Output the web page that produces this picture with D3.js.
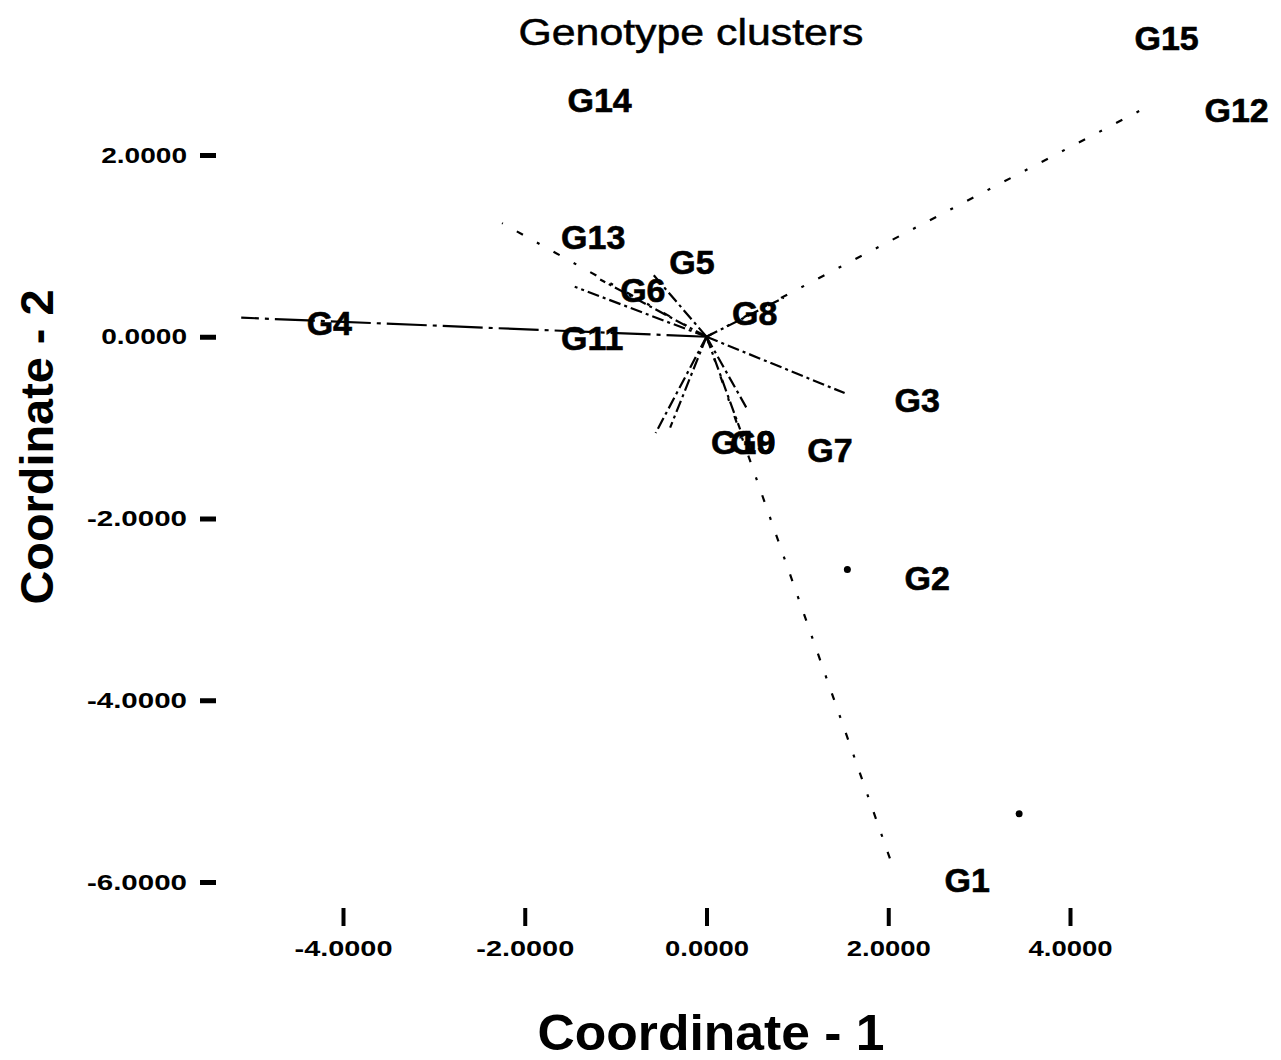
<!DOCTYPE html>
<html>
<head>
<meta charset="utf-8">
<title>Genotype clusters</title>
<script src="https://d3js.org/d3.v7.min.js"></script>
<style>
  body { margin: 0; background: #fff; }
  svg { display: block; font-family: "Liberation Sans", Arial, sans-serif; }
  .tick line { stroke: #000; }
  .tick text { fill: #000; font-size: 22px; font-weight: bold; }
  .glabel { font-size: 34px; font-weight: bold; fill: #000; stroke: #000; stroke-width: 0.6; }
  .ray { fill: none; stroke: #000; stroke-width: 2.2; }
</style>
</head>
<body>
<svg width="1281" height="1060"></svg>
<script>

// genotype labels, placed at their coordinates
var genotypes = ["G1", "G2", "G3", "G4", "G5", "G6", "G7", "G8", "G9", "G10", "G11", "G12", "G13", "G14", "G15"];
var coord1 = [2.62, 2.18, 2.07, -4.40, -0.41, -0.95, 1.11, 0.28, 0.26, 0.05, -1.60, 5.48, -1.60, -1.53, 4.71];
var coord2 = [-5.97, -2.65, -0.69, 0.15, 0.83, 0.52, -1.24, 0.26, -1.16, -1.16, -0.01, 2.50, 1.10, 2.61, 3.29];

// vectors drawn out from the origin
var rayEnd1 = [-5.12, -2.25, -1.45, -1.17, -0.60, 0.85, 1.52, -0.56, -0.40, 0.37, 0.45, 2.06, 4.85];
var rayEnd2 = [0.21, 1.25, 0.55, 0.63, 0.70, 0.43, -0.62, -1.06, -1.00, -1.02, -0.80, -5.86, 2.53];

// stray point marks
var mark1 = [1.55, 3.44];
var mark2 = [-2.56, -5.25];

var xTicks = [-4, -2, 0, 2, 4];
var yTicks = [2, 0, -2, -4, -6];

var svg = d3.select("svg");

var x = d3.scaleLinear().domain([-4, 4]).range([343, 1070]);
var y = d3.scaleLinear().domain([-6, 2]).range([882, 155]);

// plain hyphen for negatives, four decimals
var fmt = function(d) { return d3.format(".4f")(d).replace("\u2212", "-"); };

// dash patterns: dense for the short rays, sparse for the long ones
var dashFor = function(i) {
  var sparse = [1, 11, 12];
  if (sparse.indexOf(i) >= 0) return "7,16,3,16";
  if (i == 0) return "40,6,4,6";
  return "12,4,3,4";
};

// y axis
var yAxis = svg.append("g")
    .attr("transform", "translate(216,0)")
    .call(d3.axisLeft(y).tickValues(yTicks).tickSize(16).tickPadding(13).tickFormat(fmt));
yAxis.select(".domain").remove();
yAxis.selectAll(".tick line").attr("stroke-width", 5);
yAxis.selectAll(".tick text")
    .attr("textLength", function(d) { return fmt(d).length * 14.3; })
    .attr("lengthAdjust", "spacingAndGlyphs");

// x axis
var xAxis = svg.append("g")
    .attr("transform", "translate(0,908)")
    .call(d3.axisBottom(x).tickValues(xTicks).tickSize(18).tickPadding(14).tickFormat(fmt));
xAxis.select(".domain").remove();
xAxis.selectAll(".tick line").attr("stroke-width", 4);
xAxis.selectAll(".tick text")
    .attr("textLength", function(d) { return fmt(d).length * 14; })
    .attr("lengthAdjust", "spacingAndGlyphs");

// rays
svg.append("g").selectAll("line")
    .data(rayEnd1)
  .enter().append("line")
    .attr("class", "ray")
    .attr("x1", x(0))
    .attr("y1", y(0))
    .attr("x2", function(d) { return x(d); })
    .attr("y2", function(d, i) { return y(rayEnd2[i]); })
    .attr("stroke-dasharray", function(d, i) { return dashFor(i); });

// stray marks
svg.append("g").selectAll("circle")
    .data(mark1)
  .enter().append("circle")
    .attr("cx", function(d) { return x(d); })
    .attr("cy", function(d, i) { return y(mark2[i]); })
    .attr("r", 3.5)
    .attr("fill", "#000");

// genotype labels
svg.append("g").selectAll("text")
    .data(genotypes)
  .enter().append("text")
    .attr("class", "glabel")
    .attr("x", function(d, i) { return x(coord1[i]); })
    .attr("y", function(d, i) { return y(coord2[i]); })
    .attr("dy", "0.36em")
    .text(function(d) { return d; });

// titles
svg.append("text")
    .attr("x", 691)
    .attr("y", 45)
    .attr("text-anchor", "middle")
    .attr("font-size", 37)
    .attr("stroke", "#000")
    .attr("stroke-width", 0.5)
    .attr("textLength", 345)
    .attr("lengthAdjust", "spacingAndGlyphs")
    .text("Genotype clusters");

svg.append("text")
    .attr("x", 711)
    .attr("y", 1050)
    .attr("text-anchor", "middle")
    .attr("font-size", 50)
    .attr("font-weight", "bold")
    .attr("textLength", 347)
    .attr("lengthAdjust", "spacingAndGlyphs")
    .text("Coordinate - 1");

svg.append("text")
    .attr("transform", "translate(53,447) rotate(-90)")
    .attr("text-anchor", "middle")
    .attr("font-size", 47)
    .attr("font-weight", "bold")
    .attr("textLength", 315)
    .attr("lengthAdjust", "spacingAndGlyphs")
    .text("Coordinate - 2");

</script>
</body>
</html>
